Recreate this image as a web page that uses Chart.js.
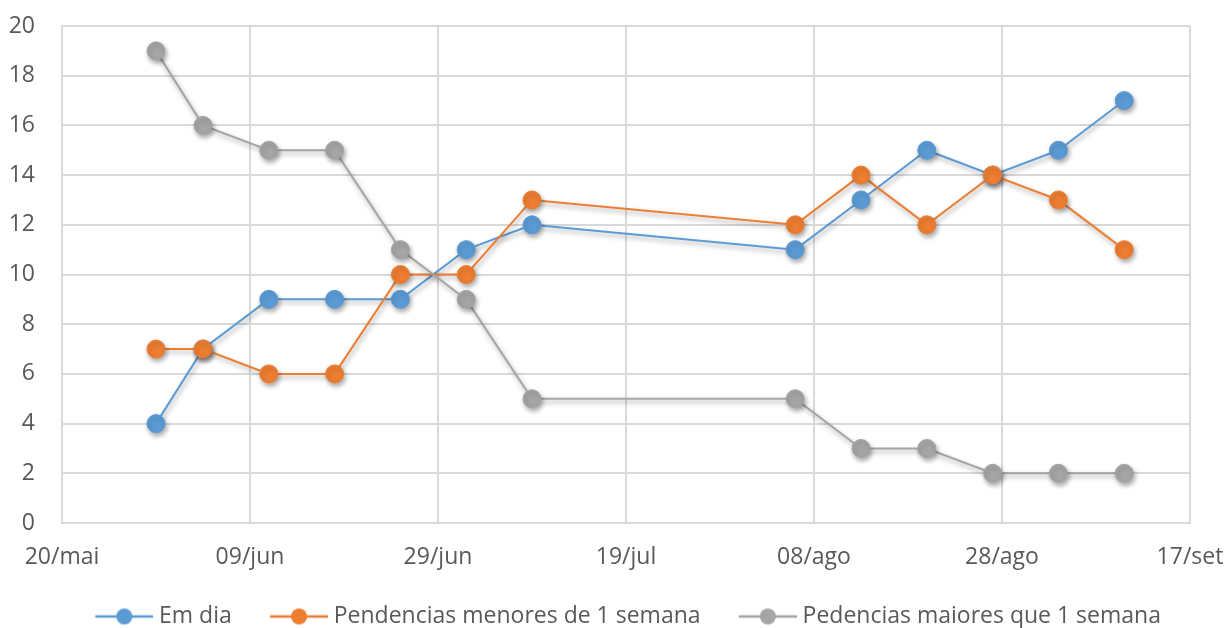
<!DOCTYPE html>
<html>
<head>
<meta charset="utf-8">
<script src="https://cdn.jsdelivr.net/npm/chart.js@4"></script>
<style>
  html, body { margin: 0; padding: 0; background: #fff; }
  #wrap { width: 1230px; height: 628px; }
</style>
</head>
<body>
<div id="wrap"><canvas id="c" width="1230" height="628"></canvas></div>
<script>
// Weekly status snapshots
const dates = ['2023-05-30', '2023-06-04', '2023-06-11', '2023-06-18', '2023-06-25', '2023-07-02', '2023-07-09',
               '2023-08-06', '2023-08-13', '2023-08-20', '2023-08-27', '2023-09-03', '2023-09-10'];
const emDia = [4, 7, 9, 9, 9, 11, 12, 11, 13, 15, 14, 15, 17];
const pendMenores = [7, 7, 6, 6, 10, 10, 13, 12, 14, 12, 14, 13, 11];
const pendMaiores = [19, 16, 15, 15, 11, 9, 5, 5, 3, 3, 2, 2, 2];

// X axis: days counted from 20/mai, labelled every 20 days
const axisStart = '2023-05-20';
const xTickLabels = ['20/mai', '09/jun', '29/jun', '19/jul', '08/ago', '28/ago', '17/set'];

const seriesNames = ['Em dia', 'Pendencias menores de 1 semana', 'Pedencias maiores que 1 semana'];
const seriesColors = ['#5B9BD5', '#ED7D31', '#A5A5A5'];

const DAY = 86400000;
const dayOffset = d => Math.round((Date.parse(d) - Date.parse(axisStart)) / DAY);
const toPoints = vals => vals.map((v, i) => ({ x: dayOffset(dates[i]), y: v }));

const FONT = '"Open Sans"';
const FONT_SIZE = 23;
const TXT = '#595959';
const GRID = '#D9D9D9';

// Legend marker geometry: blank lead-in, line with a dot, gap before text
const MARK_LEAD = 26, MARK_LEN = 58, TEXT_GAP = 6;
const BOX_W = MARK_LEAD + MARK_LEN + TEXT_GAP - FONT_SIZE / 2;
const IMG_W = Math.round(2 * (MARK_LEAD + MARK_LEN - BOX_W / 2));

function legendMarker(color) {
  const c = document.createElement('canvas');
  c.width = IMG_W; c.height = 20;
  const g = c.getContext('2d');
  const x0 = IMG_W - MARK_LEN;
  g.strokeStyle = color; g.lineWidth = 2.5;
  g.beginPath(); g.moveTo(x0, 10); g.lineTo(IMG_W, 10); g.stroke();
  g.fillStyle = color;
  g.beginPath(); g.arc(x0 + MARK_LEN / 2, 10, 8, 0, Math.PI * 2); g.fill();
  return c;
}

// Soft drop shadow under lines and markers
const shadowPlugin = {
  id: 'shadow',
  beforeDatasetDraw(chart) {
    const ctx = chart.ctx;
    ctx.save();
    ctx.shadowColor = 'rgba(0,0,0,0.35)';
    ctx.shadowBlur = 5;
    ctx.shadowOffsetX = 1.5;
    ctx.shadowOffsetY = 3;
  },
  afterDatasetDraw(chart) { chart.ctx.restore(); }
};

const allSeries = [emDia, pendMenores, pendMaiores];
const datasets = allSeries.map((vals, i) => ({
  label: seriesNames[i],
  data: toPoints(vals),
  borderColor: seriesColors[i],
  backgroundColor: seriesColors[i],
  pointBackgroundColor: seriesColors[i],
  pointBorderColor: seriesColors[i],
  borderWidth: 2,
  pointRadius: 9,
  pointBorderWidth: 1,
  tension: 0,
  order: 3 - i
}));

new Chart(document.getElementById('c'), {
  type: 'line',
  data: { datasets },
  plugins: [shadowPlugin],
  options: {
    responsive: false,
    animation: false,
    layout: { padding: { top: 26, right: 0, left: 0, bottom: -10 } },
    plugins: {
      tooltip: { enabled: false },
      title: { display: false },
      legend: {
        position: 'bottom',
        labels: {
          usePointStyle: true,
          pointStyleWidth: BOX_W,
          padding: 12,
          color: TXT,
          font: { family: FONT, size: FONT_SIZE },
          generateLabels(chart) {
            return chart.data.datasets.map((ds, i) => ({
              text: ds.label,
              fillStyle: ds.borderColor,
              strokeStyle: ds.borderColor,
              fontColor: TXT,
              lineWidth: 0,
              pointStyle: legendMarker(ds.borderColor),
              datasetIndex: i,
              hidden: false
            }));
          }
        }
      }
    },
    scales: {
      x: {
        type: 'linear',
        min: 0,
        max: 120,
        // fixed band under the plot; room on the right for the last date label
        afterFit(s) { s.height = 70; s.paddingLeft = 0; s.paddingRight = 40; },
        ticks: {
          stepSize: 20,
          padding: 23,
          color: TXT,
          font: { family: FONT, size: FONT_SIZE, lineHeight: 1 },
          maxRotation: 0,
          callback: (v) => xTickLabels[Math.round(v / 20)]
        },
        grid: { color: GRID, lineWidth: 2, drawTicks: false },
        border: { color: GRID, width: 2 }
      },
      y: {
        min: 0,
        max: 20,
        afterFit(s) { s.width = 62; s.paddingTop = 0; s.paddingBottom = 0; },
        ticks: {
          stepSize: 2,
          padding: 27,
          color: TXT,
          font: { family: FONT, size: FONT_SIZE }
        },
        grid: { color: GRID, lineWidth: 2, drawTicks: false },
        border: { color: GRID, width: 2 }
      }
    }
  }
});
</script>
</body>
</html>
